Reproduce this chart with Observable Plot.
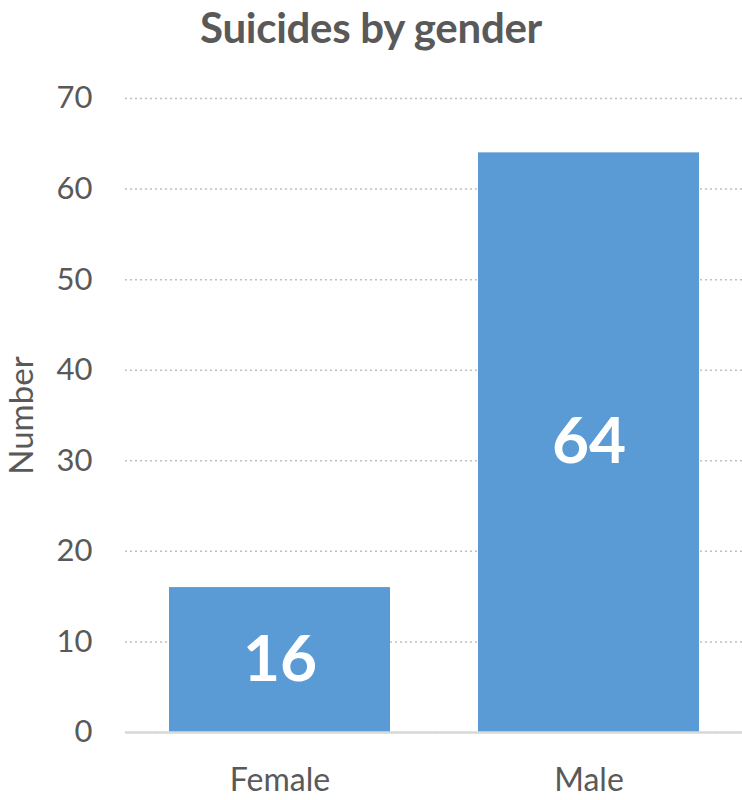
<!DOCTYPE html>
<html>
<head>
<meta charset="utf-8">
<script src="https://cdn.jsdelivr.net/npm/d3@7"></script>
<script src="https://cdn.jsdelivr.net/npm/@observablehq/plot@0.6"></script>
<style>
  body { margin: 0; background: #fff; }
  #title {
    height: 60px; width: 742px; text-align: center;
    font: bold 42px Lato, sans-serif; color: #595959;
    line-height: 54px; letter-spacing: -0.3px;
  }
</style>
</head>
<body>
<div id="title">Suicides by gender</div>
<div id="chart"></div>
<script>
const genders = ["Female", "Male"];
const counts = [16, 64];
const yTicks = [0, 10, 20, 30, 40, 50, 60, 70];

const data = genders.map((g, i) => ({gender: g, count: counts[i]}));

const chart = Plot.plot({
  width: 742,
  height: 740,
  marginLeft: 125,
  marginRight: 0,
  marginTop: 38,
  marginBottom: 68,
  style: {fontFamily: "Lato, sans-serif", fontSize: "31px", color: "#595959", background: "#fff"},
  x: {domain: genders, paddingInner: 0.285, paddingOuter: 0.14, label: null},
  y: {domain: [0, 70], label: null},
  marks: [
    Plot.gridY(yTicks, {stroke: "#bfbfbf", strokeOpacity: 1, strokeDasharray: "2,3", strokeWidth: 1.5}),
    Plot.barY(data, {x: "gender", y: "count", fill: "#5b9bd5"}),
    Plot.ruleY([0], {stroke: "#d9d9d9", strokeWidth: 2.5}),
    Plot.axisY(yTicks, {tickSize: 0, tickPadding: 33, label: null, fontSize: 31}),
    Plot.axisX({tickSize: 0, tickPadding: 36, label: null, fontSize: 32}),
    Plot.text(["Number"], {frameAnchor: "left", textAnchor: "middle", dx: -103, rotate: -90, fontSize: 33, fill: "#595959"}),
    Plot.text(data, {x: "gender", y: d => d.count / 2, text: d => String(d.count),
      fill: "white", fontWeight: "bold", fontSize: 64})
  ]
});
document.getElementById("chart").append(chart);
</script>
</body>
</html>
